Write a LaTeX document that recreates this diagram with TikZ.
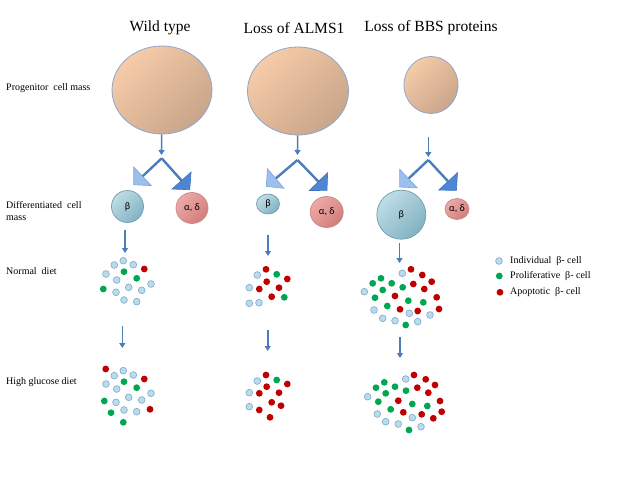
\documentclass[tikz,border=0pt]{standalone}
\usepackage{fontspec}
\setmainfont{Liberation Serif}
\newfontfamily\cellfont{Carlito}
\usepackage{tikz}
\usetikzlibrary{arrows.meta, shapes.geometric}

\definecolor{progA}{HTML}{F6CBA8}
\definecolor{progB}{HTML}{C9A58A}
\definecolor{progline}{HTML}{8FA6CC}
\definecolor{betaA}{HTML}{BFDDE6}
\definecolor{betaB}{HTML}{82B2C2}
\definecolor{betaline}{HTML}{6F9DB0}
\definecolor{aldeA}{HTML}{EDAAA6}
\definecolor{aldeB}{HTML}{D27E7A}
\definecolor{aldeline}{HTML}{C98886}
\definecolor{arrowblue}{HTML}{4A7EBB}
\definecolor{tipL}{HTML}{9CC0EE}
\definecolor{tipLline}{HTML}{7FA6DC}
\definecolor{tipR}{HTML}{4E86D4}
\definecolor{tipRline}{HTML}{3F72BE}
\definecolor{indfill}{HTML}{B9DCEC}
\definecolor{indline}{HTML}{7FA8CC}
\definecolor{profill}{HTML}{00A651}
\definecolor{apofill}{HTML}{C00000}

\begin{document}
\begin{tikzpicture}[x=1pt, y=-1pt, every node/.style={inner sep=0pt},
  prog/.style={ellipse, draw=progline, line width=0.8pt, top color=progA, bottom color=progB, shading angle=45},
  beta/.style={ellipse, draw=betaline, line width=0.7pt, top color=betaA, bottom color=betaB, shading angle=45, font=\cellfont\fontsize{10}{12}\selectfont},
  alde/.style={ellipse, draw=aldeline, line width=0.7pt, top color=aldeA, bottom color=aldeB, shading angle=45, font=\cellfont\fontsize{10}{12}\selectfont},
  ttl/.style={font=\fontsize{15.5}{18}\selectfont},
  lbl/.style={anchor=west, align=left, font=\fontsize{10}{12.5}\selectfont},
  dn/.style={draw=arrowblue, line width=1.6pt, -{Triangle[length=5pt, width=6pt]}},
  splitL/.style={draw=arrowblue, line width=2.4pt, -{Triangle[length=13pt, width=27pt, line width=0.6pt, color=tipLline, fill=tipL]}},
  splitR/.style={draw=arrowblue, line width=2.4pt, -{Triangle[length=13pt, width=27pt, line width=0.6pt, color=tipRline, fill=tipR]}},
  ind/.style={fill=indfill, draw=indline, line width=0.6pt},
  pro/.style={fill=profill},
  apo/.style={fill=apofill}]

\useasboundingbox[fill=white] (0,0) rectangle (640,480);

\node[ttl] (wt) at (160,28) {Wild type};
\node[ttl] (alms) at (294,28) {Loss of ALMS1};
\node[ttl] (bbs) at (431,28) {Loss of BBS proteins};

\node[lbl] (lprog) at (6,88) {Progenitor\ \ cell mass};
\node[lbl] (ldiff) at (6,211) {Differentiated\ \ cell\\mass};
\node[lbl] (lnorm) at (6,271) {Normal\ \ diet};
\node[lbl] (lhigh) at (6,382) {High glucose diet};

\node[prog, minimum width=100pt, minimum height=88pt] (wprog) at (162,90) {};
\node[prog, minimum width=101pt, minimum height=88pt] (aprog) at (298,91) {};
\node[prog, minimum width=54pt, minimum height=57pt] (bprog) at (431,85) {};

\node[beta, minimum width=32pt, minimum height=32pt] (wbeta) at (127.5,206.5) {β};
\node[alde, minimum width=32pt, minimum height=31pt] (walde) at (192,208) {α, δ};
\node[beta, minimum width=23pt, minimum height=20pt] (abeta) at (268,204) {β};
\node[alde, minimum width=33pt, minimum height=31pt] (aalde) at (326.7,212) {α, δ};
\node[beta, minimum width=49pt, minimum height=49pt] (bbeta) at (401.3,214.7) {β};
\node[alde, minimum width=24pt, minimum height=21pt] (balde) at (457,209) {α, δ};

\coordinate (wsplit) at (161.7,158.3);
\coordinate (asplit) at (297.5,160);
\coordinate (bsplit) at (428.3,160);
\coordinate (wstem) at (161.5,155);
\coordinate (astem) at (297.5,155);
\coordinate (bstem0) at (428.3,137);
\coordinate (bstem) at (428.3,157);
\coordinate (wtL) at (133.3,185);
\coordinate (wtR) at (190,190);
\coordinate (atL) at (266,186.7);
\coordinate (atR) at (327.3,190.7);
\coordinate (btL) at (399.3,187.3);
\coordinate (btR) at (456.7,190.7);

\draw[dn] (wprog) -- (wstem);
\draw[dn] (aprog) -- (astem);
\draw[dn] (bstem0) -- (bstem);
\draw[splitL] (wsplit) -- (wtL);
\draw[splitR] (wsplit) -- (wtR);
\draw[splitL] (asplit) -- (atL);
\draw[splitR] (asplit) -- (atR);
\draw[splitL] (bsplit) -- (btL);
\draw[splitR] (bsplit) -- (btR);

\coordinate (wn0) at (125,230);
\coordinate (wn1) at (125,253);
\coordinate (an0) at (268,235);
\coordinate (an1) at (268,256);
\coordinate (bn0) at (399.5,243);
\coordinate (bn1) at (399.5,263);
\coordinate (wh0) at (122.3,326);
\coordinate (wh1) at (122.3,348);
\coordinate (ah0) at (267.7,330);
\coordinate (ah1) at (267.7,351);
\coordinate (bh0) at (400,337);
\coordinate (bh1) at (400,358);

\draw[dn] (wn0) -- (wn1);
\draw[dn] (an0) -- (an1);
\draw[dn] (bn0) -- (bn1);
\draw[dn] (wh0) -- (wh1);
\draw[dn] (ah0) -- (ah1);
\draw[dn] (bh0) -- (bh1);

\path[ind] (114.3,265) circle (3.4) (123.3,260.7) circle (3.4) (133.3,264.7) circle (3.4) (106,274) circle (3.4) (116.7,280) circle (3.4) (151,284) circle (3.4) (116,292.3) circle (3.4) (128.7,287.3) circle (3.4) (141.7,290.3) circle (3.4) (124,300) circle (3.4) (136.7,301.7) circle (3.4);
\path[pro] (124,271.7) circle (3.4) (136.7,278.3) circle (3.4) (103.3,289) circle (3.4);
\path[apo] (144.3,269) circle (3.4);

\path[ind] (257.3,275) circle (3.4) (249.3,287.7) circle (3.4) (249.3,303.3) circle (3.4) (259,302.7) circle (3.4);
\path[pro] (276.7,274.3) circle (3.4) (284.3,297.3) circle (3.4);
\path[apo] (266,269.3) circle (3.4) (287.3,279) circle (3.4) (266.7,281.7) circle (3.4) (259.3,289) circle (3.4) (279,287.7) circle (3.4) (271.7,296.7) circle (3.4);

\path[ind] (402.3,273.3) circle (3.4) (364.3,291.7) circle (3.4) (374,310) circle (3.4) (409.3,313.3) circle (3.4) (430,315) circle (3.4) (382.7,318.3) circle (3.4) (395,320.7) circle (3.4) (417.7,321.7) circle (3.4);
\path[pro] (372.7,283.3) circle (3.4) (381,278.3) circle (3.4) (391.7,283.3) circle (3.4) (402.7,287.3) circle (3.4) (382.7,290) circle (3.4) (375,297.7) circle (3.4) (408.3,300.7) circle (3.4) (423.3,302.3) circle (3.4) (387.3,306) circle (3.4) (405.7,325) circle (3.4);
\path[apo] (411,269.3) circle (3.4) (422.3,275) circle (3.4) (431.7,281.7) circle (3.4) (413.3,284) circle (3.4) (424.3,289) circle (3.4) (395,296) circle (3.4) (436.7,297.3) circle (3.4) (400,309.3) circle (3.4) (417.7,311) circle (3.4) (439,309) circle (3.4);

\path[ind] (114.3,375.7) circle (3.4) (123.3,370.7) circle (3.4) (133.3,375) circle (3.4) (106,384) circle (3.4) (116.7,389) circle (3.4) (151,393.3) circle (3.4) (116,402.3) circle (3.4) (128.7,397.3) circle (3.4) (141.7,400) circle (3.4) (124,410) circle (3.4) (136.7,411.7) circle (3.4);
\path[pro] (124,381.7) circle (3.4) (136.7,387.7) circle (3.4) (104.3,401) circle (3.4) (111,412.7) circle (3.4) (123.3,422.3) circle (3.4);
\path[apo] (105.7,369) circle (3.4) (144.3,379) circle (3.4) (150,409.3) circle (3.4);

\path[ind] (257.3,381) circle (3.4) (249.3,392.7) circle (3.4) (249.3,406.7) circle (3.4);
\path[pro] (276.7,380) circle (3.4);
\path[apo] (266,375) circle (3.4) (287.3,384) circle (3.4) (266.7,386.7) circle (3.4) (259.3,393.3) circle (3.4) (279,392.7) circle (3.4) (271.7,402.3) circle (3.4) (281,405.7) circle (3.4) (259.3,410) circle (3.4) (270,417.3) circle (3.4);

\path[ind] (405.7,379) circle (3.4) (367.7,396.7) circle (3.4) (377.3,414) circle (3.4) (412.3,417.7) circle (3.4) (385.7,421.7) circle (3.4) (398.3,424) circle (3.4) (421,426.7) circle (3.4);
\path[pro] (376,387.7) circle (3.4) (384.3,382.3) circle (3.4) (395,386.7) circle (3.4) (406,390.7) circle (3.4) (385.7,393.3) circle (3.4) (378.3,401.7) circle (3.4) (412.3,404) circle (3.4) (427.3,406) circle (3.4) (390.7,409.3) circle (3.4) (409,430) circle (3.4);
\path[apo] (414,375) circle (3.4) (425.7,379.3) circle (3.4) (435,385) circle (3.4) (417.3,387.7) circle (3.4) (428.3,392.7) circle (3.4) (398.3,400.7) circle (3.4) (440,401) circle (3.4) (403.3,412.3) circle (3.4) (421.7,414.3) circle (3.4) (433.3,418.3) circle (3.4) (441.7,411.7) circle (3.4);

\path[ind] (499,261) circle (3.4);
\path[pro] (499.3,276) circle (3.4);
\path[apo] (500,292.3) circle (3.4);
\node[lbl] (lgind) at (510,261) {Individual\ \ β- cell};
\node[lbl] (lgpro) at (510,276) {Proliferative\ \ β- cell};
\node[lbl] (lgapo) at (510,292.3) {Apoptotic\ \ β- cell};
\end{tikzpicture}
\end{document}
